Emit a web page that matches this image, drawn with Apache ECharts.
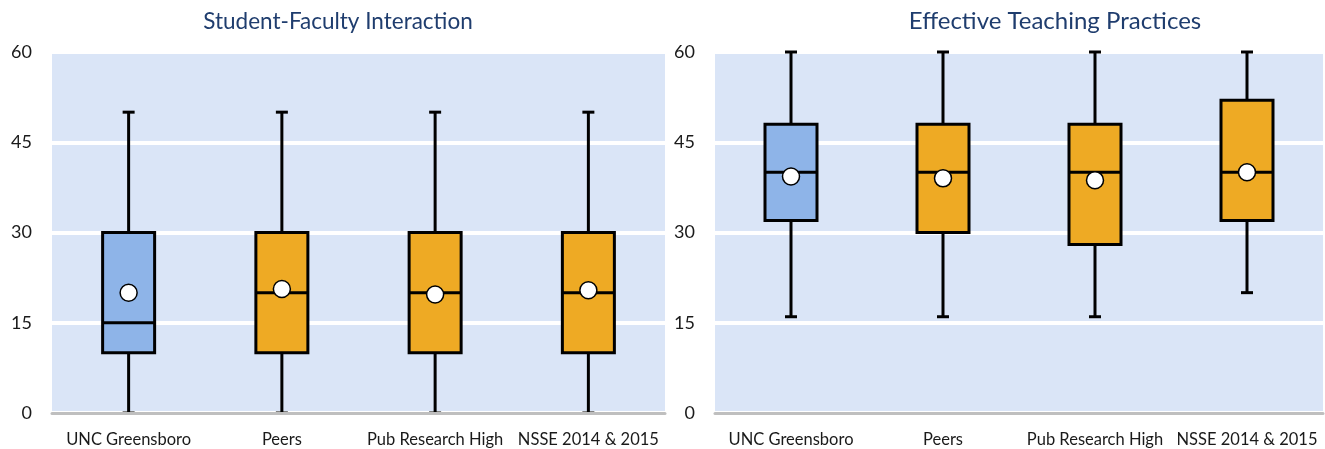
<!DOCTYPE html>
<html>
<head>
<meta charset="utf-8">
<script src="https://cdn.jsdelivr.net/npm/echarts@6/dist/echarts.min.js"></script>
<style>
  html, body { margin: 0; padding: 0; background: #ffffff; }
  #chart { width: 1325px; height: 449px; }
</style>
</head>
<body>
<div id="chart"></div>
<script>
// Groups compared in both panels
const categories = ['UNC Greensboro', 'Peers', 'Pub Research High', 'NSSE 2014 & 2015'];

// Box statistics per group: [min, Q1, median, Q3, max]
const sfiBoxes = [
  [0, 10, 15, 30, 50],
  [0, 10, 20, 30, 50],
  [0, 10, 20, 30, 50],
  [0, 10, 20, 30, 50]
];
const sfiMeans = [20.0, 20.6, 19.7, 20.4];

const etpBoxes = [
  [16, 32, 40, 48, 60],
  [16, 30, 40, 48, 60],
  [16, 28, 40, 48, 60],
  [20, 32, 40, 52, 60]
];
const etpMeans = [39.3, 39.0, 38.7, 40.0];

// Value axis ticks
const yTicks = [0, 15, 30, 45, 60];

const titles = ['Student-Faculty Interaction', 'Effective Teaching Practices'];

const BLUE = '#8eb4e8';
const ORANGE = '#eeaa24';
const FONT = 'Lato, "Liberation Sans", sans-serif';

function boxData(boxes) {
  return boxes.map((b, i) => [i].concat(b));
}

// Box with narrow whisker caps; first group in blue, the rest in orange
function renderBox(params, api) {
  const idx = api.value(0);
  const pMin = api.coord([idx, api.value(1)]);
  const pQ1 = api.coord([idx, api.value(2)]);
  const pMed = api.coord([idx, api.value(3)]);
  const pQ3 = api.coord([idx, api.value(4)]);
  const pMax = api.coord([idx, api.value(5)]);
  const x = pMin[0];
  const half = 26;
  const cap = 6;
  const stroke = { stroke: '#000', lineWidth: 3 };
  const fill = idx === 0 ? BLUE : ORANGE;
  return {
    type: 'group',
    children: [
      { type: 'line', shape: { x1: x, y1: pMin[1], x2: x, y2: pQ1[1] }, style: stroke },
      { type: 'line', shape: { x1: x, y1: pQ3[1], x2: x, y2: pMax[1] }, style: stroke },
      { type: 'line', shape: { x1: x - cap, y1: pMin[1], x2: x + cap, y2: pMin[1] }, style: stroke },
      { type: 'line', shape: { x1: x - cap, y1: pMax[1], x2: x + cap, y2: pMax[1] }, style: stroke },
      { type: 'rect', shape: { x: x - half, y: pQ3[1], width: half * 2, height: pQ1[1] - pQ3[1] },
        style: { fill: fill, stroke: '#000', lineWidth: 3 } },
      { type: 'line', shape: { x1: x - half, y1: pMed[1], x2: x + half, y2: pMed[1] }, style: stroke }
    ]
  };
}

const grids = [
  { left: 52, top: 52, width: 613, height: 361 },
  { left: 715, top: 52, width: 608, height: 361 }
];

const option = {
  animation: false,
  backgroundColor: '#ffffff',
  title: [
    { text: titles[0], left: 333, top: 5, textAlign: 'center',
      textStyle: { color: '#1f3d6e', fontSize: 22.5, fontWeight: 'normal', fontFamily: FONT } },
    { text: titles[1], left: 1050, top: 4, textAlign: 'center',
      textStyle: { color: '#1f3d6e', fontSize: 24, fontWeight: 'normal', fontFamily: FONT } }
  ],
  grid: grids.map(g => Object.assign({ show: true, backgroundColor: '#dae5f7', borderWidth: 0 }, g)),
  xAxis: [0, 1].map(i => ({
    type: 'category',
    gridIndex: i,
    data: categories,
    z: 5,
    axisLine: { show: true, lineStyle: { color: '#bfbfbf', width: 3 } },
    axisTick: { show: false },
    axisLabel: { color: '#1a1a1a', fontSize: 16.5, fontFamily: FONT, margin: 18, interval: 0 },
    splitLine: { show: false }
  })),
  yAxis: [0, 1].map(i => ({
    type: 'value',
    gridIndex: i,
    min: yTicks[0],
    max: yTicks[yTicks.length - 1],
    interval: yTicks[1] - yTicks[0],
    axisLine: { show: false },
    axisTick: { show: false },
    axisLabel: { color: '#1a1a1a', fontSize: 18, fontFamily: FONT, margin: 20 },
    splitLine: { show: true, lineStyle: { color: '#ffffff', width: 4 } }
  })),
  series: [
    { type: 'custom', xAxisIndex: 0, yAxisIndex: 0, renderItem: renderBox,
      encode: { x: 0, y: [1, 2, 3, 4, 5] }, data: boxData(sfiBoxes), z: 2 },
    { type: 'scatter', xAxisIndex: 0, yAxisIndex: 0, symbol: 'circle', symbolSize: 17,
      itemStyle: { color: '#ffffff', borderColor: '#000', borderWidth: 1.5, opacity: 1 },
      data: sfiMeans.map((m, i) => [i, m]), z: 3 },
    { type: 'custom', xAxisIndex: 1, yAxisIndex: 1, renderItem: renderBox,
      encode: { x: 0, y: [1, 2, 3, 4, 5] }, data: boxData(etpBoxes), z: 2 },
    { type: 'scatter', xAxisIndex: 1, yAxisIndex: 1, symbol: 'circle', symbolSize: 17,
      itemStyle: { color: '#ffffff', borderColor: '#000', borderWidth: 1.5, opacity: 1 },
      data: etpMeans.map((m, i) => [i, m]), z: 3 }
  ]
};

const chart = echarts.init(document.getElementById('chart'), null, { renderer: 'canvas' });
chart.setOption(option);
</script>
</body>
</html>
